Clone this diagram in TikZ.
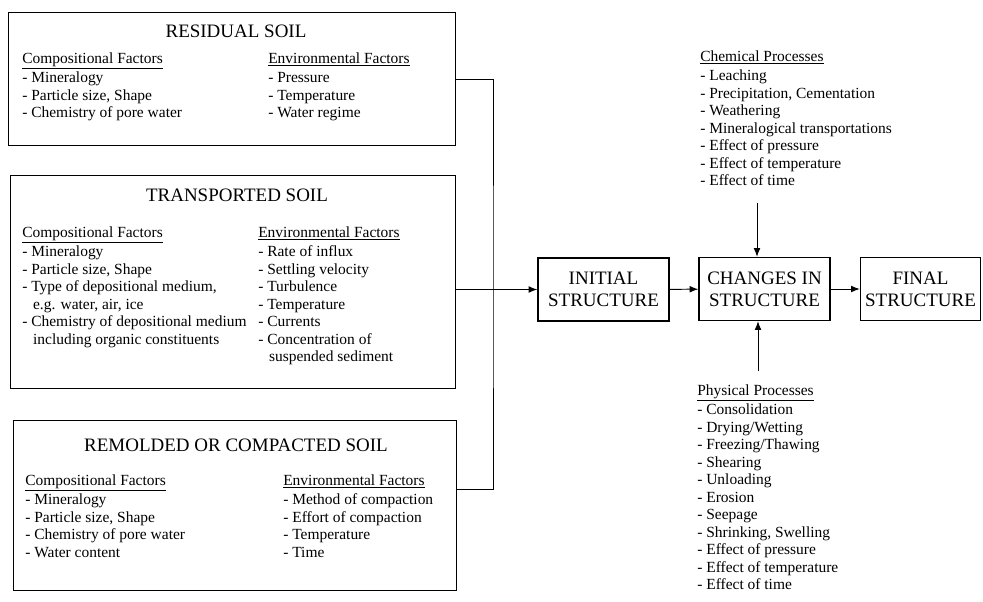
\documentclass[tikz,border=0pt]{standalone}
\usepackage{fontspec}
\setmainfont{Liberation Serif}
\usetikzlibrary{arrows.meta}

\tikzset{
  soilbox/.style={draw, line width=0.9pt, inner sep=0pt, anchor=north west},
  soiltitle/.style={font=\fontsize{13.5}{16}\selectfont},
  factors/.style={align=left, anchor=north west, inner sep=0pt,
    font=\fontsize{11}{12.45}\selectfont},
  stage/.style={draw, line width=0.9pt, align=center, minimum width=3.275cm,
    minimum height=1.575cm, font=\fontsize{13.5}{15.5}\selectfont},
  feed/.style={line width=0.7pt},
  arr/.style={line width=0.7pt, -{Latex[length=2.2mm, width=1.7mm]}}
}

\begin{document}
\begin{tikzpicture}[x=0.025cm, y=-0.025cm]
  \useasboundingbox (0,0) rectangle (983,602);
  % soil boxes
  \node[soilbox, minimum width=11.175cm, minimum height=3.325cm] (residual) at (8,12) {};
  \node[soilbox, minimum width=11.125cm, minimum height=5.325cm] (transported) at (10,175) {};
  \node[soilbox, minimum width=11.075cm, minimum height=4.25cm] (remolded) at (13,420) {};
  \node[soiltitle] (restitle) at (236,31) {RESIDUAL SOIL};
  \node[soiltitle] (trntitle) at (237,195) {TRANSPORTED SOIL};
  \node[soiltitle] (remtitle) at (236,445) {REMOLDED OR COMPACTED SOIL};
  % factor lists
  \node[factors] (rescomp) at (22,52) {\underline{Compositional Factors}\\[1.5pt]- Mineralogy\\- Particle size, Shape\\- Chemistry of pore water};
  \node[factors] (resenv) at (268,52) {\underline{Environmental Factors}\\[1.5pt]- Pressure\\- Temperature\\- Water regime};
  \node[factors] (trncomp) at (22,226) {\underline{Compositional Factors}\\[1.5pt]- Mineralogy\\- Particle size, Shape\\- Type of depositional medium,\\\hspace{0.7em}e.g. water, air, ice\\- Chemistry of depositional medium\\\hspace{0.7em}including organic constituents};
  \node[factors] (trnenv) at (258,226) {\underline{Environmental Factors}\\[1.5pt]- Rate of influx\\- Settling velocity\\- Turbulence\\- Temperature\\- Currents\\- Concentration of\\\hspace{0.7em}suspended sediment};
  \node[factors] (remcomp) at (25,474) {\underline{Compositional Factors}\\[1.5pt]- Mineralogy\\- Particle size, Shape\\- Chemistry of pore water\\- Water content};
  \node[factors] (remenv) at (283,474) {\underline{Environmental Factors}\\[1.5pt]- Method of compaction\\- Effort of compaction\\- Temperature\\- Time};
  % structure stages
  \node[stage] (initial) at (603.5,289.5) {INITIAL\\STRUCTURE};
  \node[stage] (changes) at (764.5,289) {CHANGES IN\\STRUCTURE};
  \node[stage, minimum width=2.975cm] (final) at (920.5,289) {FINAL\\STRUCTURE};
  % processes
  \node[factors] (chemical) at (700,50) {\underline{Chemical Processes}\\[1.5pt]- Leaching\\- Precipitation, Cementation\\- Weathering\\- Mineralogical transportations\\- Effect of pressure\\- Effect of temperature\\- Effect of time};
  \node[factors] (physical) at (697,384) {\underline{Physical Processes}\\[1.5pt]- Consolidation\\- Drying/Wetting\\- Freezing/Thawing\\- Shearing\\- Unloading\\- Erosion\\- Seepage\\- Shrinking, Swelling\\- Effect of pressure\\- Effect of temperature\\- Effect of time};
  \coordinate (bus) at (493,289.5);
  \coordinate (chemfoot) at (757,203);
  \coordinate (physhead) at (758,371);
  \begin{scope}[feed]
    \draw (residual.east) -| (bus) |- ([yshift=0.4cm]remolded.east);
  \end{scope}
  \begin{scope}[arr]
    \draw (transported.east |- initial.west) to (initial.west);
    \draw (initial) to (changes);
    \draw (changes) to (final);
    \draw (chemfoot) to (chemfoot |- changes.north);
    \draw (physhead) to (physhead |- changes.south);
  \end{scope}
\end{tikzpicture}
\end{document}
